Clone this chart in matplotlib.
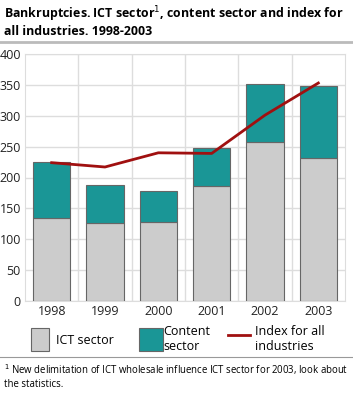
import matplotlib
matplotlib.use("Agg")
import matplotlib.pyplot as plt
from matplotlib.patches import Rectangle
from matplotlib.lines import Line2D
import numpy as np

years = ["1998", "1999", "2000", "2001", "2002", "2003"]
ict = [135, 127, 128, 186, 258, 231]
content = [90, 61, 50, 61, 94, 117]
index_all = [224, 217, 240, 239, 301, 353]

W, H = 353, 395
fig = plt.figure(figsize=(W/100, H/100), dpi=100)
plt.rcParams['font.family'] = ['Open Sans', 'DejaVu Sans']

ax = fig.add_axes([25/W, 1-301/H, 320/W, 247/H])
x = np.arange(len(years))
grey = "#cccccc"
teal = "#1a9696"
red = "#a01010"
edge = "#666666"
ax.bar(x, ict, width=0.7, color=grey, edgecolor=edge, linewidth=0.8, zorder=3)
ax.bar(x, content, bottom=ict, width=0.7, color=teal, edgecolor=edge, linewidth=0.8, zorder=3)
ax.plot(x, index_all, color=red, linewidth=2, zorder=4)

ax.set_xlim(-0.5, 5.5)
ax.set_ylim(0, 400)
ax.set_yticks(range(0, 401, 50))
ax.set_xticks(x)
ax.set_xticklabels(years)
ax.set_xticks(np.arange(0.5, 5.5, 1), minor=True)
ax.grid(axis='y', color="#dddddd", linewidth=1, zorder=0)
ax.grid(axis='x', which='minor', color="#dddddd", linewidth=1, zorder=0)
for s in ax.spines.values():
    s.set_color("#dddddd")
ax.tick_params(axis='both', which='both', length=0, labelsize=9, colors="#222222")
ax.tick_params(axis='y', pad=3)
ax.tick_params(axis='x', pad=3)

fig.text(4/W, 1-4/H, "Bankruptcies. ICT sector$^{1}$, content sector and index for\nall industries. 1998-2003",
         ha='left', va='top', fontsize=8.95, fontweight='bold', linespacing=1.15)
fig.add_artist(Line2D([0, 1], [1-42/H, 1-42/H], color="#bbbbbb", linewidth=2, transform=fig.transFigure))
fig.add_artist(Line2D([0, 1], [1-357/H, 1-357/H], color="#999999", linewidth=0.8, transform=fig.transFigure))

# legend
fig.add_artist(Rectangle((31/W, 1-351/H), 18/W, 23/H, facecolor=grey, edgecolor=edge, linewidth=0.8, transform=fig.transFigure))
fig.text(56/W, 1-340/H, "ICT sector", ha='left', va='center', fontsize=9)
fig.add_artist(Rectangle((139/W, 1-351/H), 24/W, 23/H, facecolor=teal, edgecolor=edge, linewidth=0.8, transform=fig.transFigure))
fig.text(163/W, 1-339/H, "Content\nsector", ha='left', va='center', fontsize=9, linespacing=1.2)
fig.add_artist(Line2D([228/W, 250/W], [1-335/H, 1-335/H], color=red, linewidth=2, transform=fig.transFigure))
fig.text(255/W, 1-339/H, "Index for all\nindustries", ha='left', va='center', fontsize=9, linespacing=1.2)

fig.text(4/W, 1-362/H, "$^{1}$ New delimitation of ICT wholesale influence ICT sector for 2003, look about\nthe statistics.",
         ha='left', va='top', fontsize=6.9, linespacing=1.3)

fig.savefig("out.png", dpi=100)
